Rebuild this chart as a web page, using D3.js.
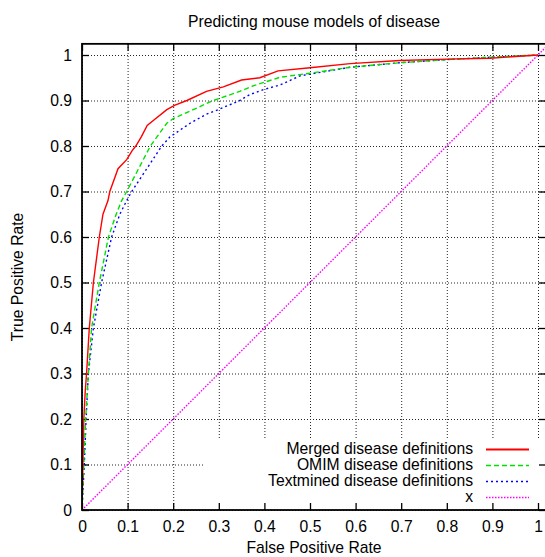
<!DOCTYPE html>
<html lang="en">
<head>
    <meta charset="UTF-8">
    <title>Predicting mouse models of disease</title>
    <script src="https://d3js.org/d3.v7.min.js"></script>
    <style>
        body { margin: 0; background: #fff; }
        svg text { font-family: "Liberation Sans", Arial, sans-serif; font-size: 15.7px; fill: #000; }
        .axis path { display: none; }
        .axis line { stroke: #000; stroke-width: 1.3; }
    </style>
</head>
<body>
    <div id="chart-container"></div>
    <script>
        // ROC points: [false positive rate, true positive rate]
        const merged = [
            [0, 0], [0.002, 0.1], [0.004, 0.2], [0.007, 0.26], [0.01, 0.3], [0.016, 0.4],
            [0.025, 0.5], [0.038, 0.6], [0.046, 0.65], [0.057, 0.68], [0.061, 0.7],
            [0.079, 0.75], [0.098, 0.77], [0.11, 0.79], [0.118, 0.8], [0.13, 0.82],
            [0.143, 0.845], [0.155, 0.855], [0.186, 0.88], [0.204, 0.89], [0.23, 0.9],
            [0.273, 0.92], [0.31, 0.93], [0.35, 0.945], [0.39, 0.95], [0.43, 0.965],
            [0.5, 0.972], [0.588, 0.981], [0.697, 0.988], [0.8, 0.991], [0.895, 0.993], [1, 1]
        ];
        const omim = [
            [0, 0], [0.004, 0.1], [0.008, 0.2], [0.014, 0.3], [0.021, 0.4], [0.038, 0.5],
            [0.058, 0.6], [0.075, 0.65], [0.087, 0.68], [0.098, 0.7], [0.124, 0.75],
            [0.15, 0.8], [0.186, 0.85], [0.2, 0.86], [0.244, 0.88], [0.288, 0.9],
            [0.346, 0.92], [0.375, 0.932], [0.434, 0.951], [0.5, 0.96], [0.588, 0.973],
            [0.697, 0.983], [0.8, 0.99], [0.895, 0.995], [1, 1]
        ];
        const textmined = [
            [0, 0], [0.005, 0.1], [0.009, 0.2], [0.014, 0.3], [0.025, 0.4], [0.043, 0.5],
            [0.065, 0.6], [0.083, 0.65], [0.098, 0.68], [0.109, 0.7], [0.142, 0.75],
            [0.175, 0.8], [0.193, 0.82], [0.237, 0.85], [0.273, 0.87], [0.299, 0.88],
            [0.346, 0.9], [0.368, 0.913], [0.398, 0.924], [0.434, 0.934], [0.478, 0.954],
            [0.5, 0.958], [0.588, 0.973], [0.697, 0.983], [0.8, 0.99], [0.895, 0.995], [1, 1]
        ];
        const seriesNames = ["Merged disease definitions", "OMIM disease definitions",
                             "Textmined disease definitions", "x"];
        const tickValues = [0, 0.1, 0.2, 0.3, 0.4, 0.5, 0.6, 0.7, 0.8, 0.9, 1];

        const W = 545, H = 557;
        const xMax = 1.0175, yMax = 1.0245;

        const x = d3.scaleLinear().domain([0, 1]).range([82, 538]);
        const y = d3.scaleLinear().domain([0, 1]).range([510, 55]);
        const plotL = x(0), plotR = x(xMax), plotB = y(0), plotT = y(yMax);

        const svg = d3.select("#chart-container")
            .append("svg")
            .attr("width", W)
            .attr("height", H);

        // grid
        const grid = svg.append("g").attr("stroke", "#000").attr("stroke-width", 1)
            .attr("stroke-dasharray", "1,2").attr("opacity", 0.85);
        grid.selectAll(".gx").data(tickValues).enter().append("line")
            .attr("x1", d => x(d) + 0.5).attr("x2", d => x(d) + 0.5)
            .attr("y1", plotB).attr("y2", plotT);
        grid.selectAll(".gy").data(tickValues).enter().append("line")
            .attr("y1", d => y(d) + 0.5).attr("y2", d => y(d) + 0.5)
            .attr("x1", plotL).attr("x2", plotR);

        // key box (opaque, hides the grid under it)
        svg.append("rect")
            .attr("x", 204).attr("y", 439)
            .attr("width", plotR - 204).attr("height", plotB - 439 - 1)
            .attr("fill", "#fff");

        // axes with inward ticks on all four sides
        const fmt = d => d === 0 || d === 1 ? String(d) : d3.format(".1f")(d);
        svg.append("g").attr("class", "axis")
            .attr("transform", `translate(0,${plotB})`)
            .call(d3.axisBottom(x).tickValues(tickValues).tickFormat(fmt)
                .tickSizeInner(-7).tickSizeOuter(0).tickPadding(11));
        svg.append("g").attr("class", "axis")
            .attr("transform", `translate(${plotL},0)`)
            .call(d3.axisLeft(y).tickValues(tickValues).tickFormat(fmt)
                .tickSizeInner(-7).tickSizeOuter(0).tickPadding(10));
        svg.append("g").attr("class", "axis")
            .attr("transform", `translate(0,${plotT})`)
            .call(d3.axisTop(x).tickValues(tickValues).tickFormat("")
                .tickSizeInner(-7).tickSizeOuter(0));
        svg.append("g").attr("class", "axis")
            .attr("transform", `translate(${plotR},0)`)
            .call(d3.axisRight(y).tickValues(tickValues).tickFormat("")
                .tickSizeInner(-7).tickSizeOuter(0));

        // curves
        svg.append("defs").append("clipPath").attr("id", "clip")
            .append("rect").attr("x", plotL).attr("y", plotT)
            .attr("width", plotR - plotL).attr("height", plotB - plotT);

        const line = d3.line().x(d => x(d[0])).y(d => y(d[1]));
        const styles = [
            { color: "#ff0000", dash: null },
            { color: "#00e000", dash: "5,3" },
            { color: "#0000ff", dash: "2,3" },
            { color: "#ff00ff", dash: "1.5,1.5" }
        ];
        const diag = [[0, 0], [xMax, xMax]];
        const allSeries = [merged, omim, textmined, diag];

        const plot = svg.append("g").attr("clip-path", "url(#clip)");
        [3, 2, 1, 0].forEach(i => {
            plot.append("path")
                .attr("d", line(allSeries[i]))
                .attr("fill", "none")
                .attr("stroke", styles[i].color)
                .attr("stroke-width", 1.4)
                .attr("stroke-dasharray", styles[i].dash);
        });

        // frame
        svg.append("rect")
            .attr("x", plotL).attr("y", plotT)
            .attr("width", plotR - plotL).attr("height", plotB - plotT)
            .attr("fill", "none").attr("stroke", "#000").attr("stroke-width", 1.8);

        // key
        const key = svg.append("g");
        seriesNames.forEach((name, i) => {
            const ky = 449 + i * 16;
            key.append("text")
                .attr("x", 473).attr("y", ky).attr("dy", "0.35em")
                .attr("text-anchor", "end")
                .text(name);
            key.append("line")
                .attr("x1", 486).attr("x2", 529)
                .attr("y1", ky + 0.5).attr("y2", ky + 0.5)
                .attr("stroke", styles[i].color)
                .attr("stroke-width", i === 0 ? 2 : 1.5)
                .attr("stroke-dasharray", styles[i].dash);
        });

        // titles
        svg.append("text")
            .attr("x", (plotL + plotR) / 2).attr("y", 27)
            .attr("text-anchor", "middle")
            .text("Predicting mouse models of disease");
        svg.append("text")
            .attr("x", (plotL + plotR) / 2).attr("y", 553)
            .attr("text-anchor", "middle")
            .text("False Positive Rate");
        svg.append("text")
            .attr("transform", `translate(23,${(plotT + plotB) / 2}) rotate(-90)`)
            .attr("text-anchor", "middle")
            .text("True Positive Rate");
    </script>
</body>
</html>
